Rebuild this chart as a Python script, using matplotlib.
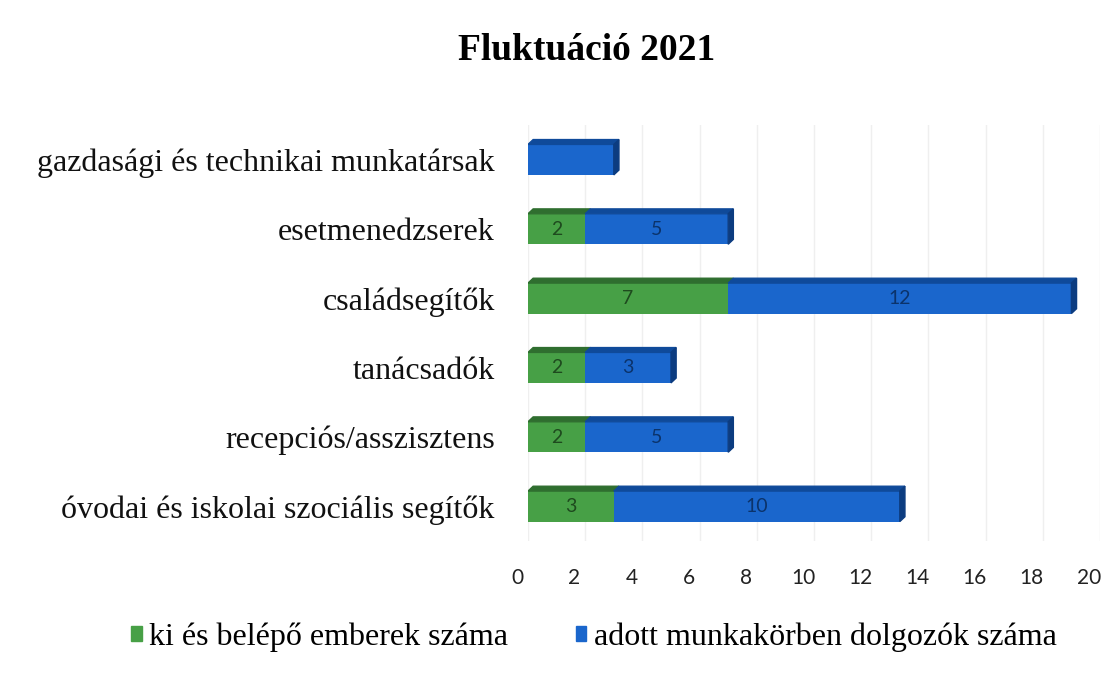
import numpy as np
import matplotlib.pyplot as plt
from matplotlib.transforms import offset_copy
from matplotlib.patches import Polygon

categories = ["óvodai és iskolai szociális segítők", "recepciós/asszisztens", "tanácsadók",
              "családsegítők", "esetmenedzserek", "gazdasági és technikai munkatársak"]
ki_belepo = [3, 2, 2, 7, 2, 0]
dolgozok = [10, 5, 3, 12, 5, 3]
xticks = [0, 2, 4, 6, 8, 10, 12, 14, 16, 18, 20]

green = "#47a046"
blue = "#1a66cc"
green_top = "#2f6e2f"
blue_top = "#0f4a9a"
blue_side = "#0c3c80"

serif = "Liberation Serif"

fig = plt.figure(figsize=(11.03, 6.77), dpi=100)
ax = fig.add_axes([528 / 1103, 1 - 541 / 677, 572 / 1103, 416 / 677])

y = np.arange(len(categories))
h = 0.44
ax.barh(y, ki_belepo, height=h, color=green, zorder=3)
ax.barh(y, dolgozok, left=ki_belepo, height=h, color=blue, zorder=3)

# simple 3D look: dark top face and right side face
dx, dy = 0.18, 0.07
for yi, g, b in zip(y, ki_belepo, dolgozok):
    top = yi + h / 2
    if g > 0:
        ax.add_patch(Polygon([(0, top), (g, top), (g + dx, top + dy), (dx, top + dy)],
                             color=green_top, zorder=3))
    ax.add_patch(Polygon([(g, top), (g + b, top), (g + b + dx, top + dy), (g + dx, top + dy)],
                         color=blue_top, zorder=3))
    end = g + b
    ax.add_patch(Polygon([(end, yi - h / 2), (end + dx, yi - h / 2 + dy),
                          (end + dx, top + dy), (end, top)], color=blue_side, zorder=3))
    if g > 0:
        ax.text(g / 2, yi, str(g), ha="center", va="center", fontsize=14,
                color="#1e4a1e", family="Lato", zorder=4)
        ax.text(g + b / 2, yi, str(b), ha="center", va="center", fontsize=14,
                color="#0b336b", family="Lato", zorder=4)

ax.set_xlim(0, 20)
ax.set_ylim(-0.5, len(categories) - 0.5)
ax.set_xticks(xticks)
ax.set_xticklabels([])
# x labels sit a little left of the gridlines (perspective of the 3D floor)
lbl_tr = offset_copy(ax.get_xaxis_transform(), fig=fig, x=-11, y=-37, units="dots")
for t in xticks:
    ax.text(t, 0, str(t), transform=lbl_tr, ha="center", va="center",
            family="Lato", fontsize=15, color="#222222")
ax.set_yticks(y)
ax.set_yticklabels(categories, family=serif, fontsize=23, color="#111111")
ax.tick_params(axis="x", length=0)
ax.tick_params(axis="y", length=0, pad=24)
ax.grid(axis="x", color="#efefef", linewidth=1, zorder=0)
for s in ax.spines.values():
    s.set_visible(False)

fig.text(0.532, 1 - 50 / 677, "Fluktuáció 2021", ha="center", va="center",
         family=serif, fontsize=27, fontweight="bold")

leg = fig.legend(handles=[plt.Rectangle((0, 0), 1, 1, color=green),
                          plt.Rectangle((0, 0), 1, 1, color=blue)],
                 labels=["ki és belépő emberek száma", "adott munkakörben dolgozók száma"],
                 loc="center", bbox_to_anchor=(0.5385, 1 - 637 / 677), ncol=2, frameon=False,
                 prop={"family": serif, "size": 23}, handlelength=0.32, handleheight=0.32,
                 handletextpad=0.25, columnspacing=2.1)

fig.savefig("out.png", dpi=100)
